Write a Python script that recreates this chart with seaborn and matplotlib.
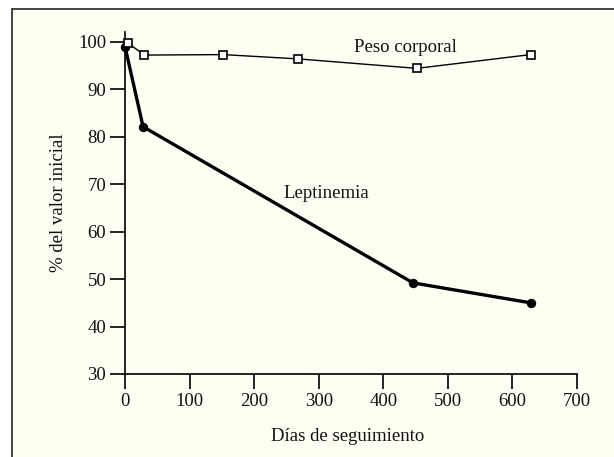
import matplotlib
matplotlib.use("Agg")
import matplotlib.pyplot as plt
import seaborn as sns
import pandas as pd
from matplotlib.patches import Rectangle

# Data
peso_dias = [5, 30, 152, 268, 452, 628]
peso_valor = [99.7, 97.2, 97.3, 96.4, 94.4, 97.3]
lept_dias = [0, 28, 446, 628]
lept_valor = [99.0, 82.1, 49.2, 45.0]
x_ticks = [0, 100, 200, 300, 400, 500, 600, 700]
y_ticks = [30, 40, 50, 60, 70, 80, 90, 100]
x_label = "Días de seguimiento"
y_label = "% del valor inicial"
peso_text = "Peso corporal"
lept_text = "Leptinemia"

sns.set_theme(style="ticks")
plt.rcParams['font.family'] = ['Liberation Serif', 'DejaVu Serif']

FS = 13.5
bg = "#FFFFF3"
W, H = 614, 457
fig = plt.figure(figsize=(W / 100, H / 100), dpi=100)
fig.patch.set_facecolor("white")
fig.patches.append(Rectangle((12 / W, -0.02), 1.05, 1 - 9 / H + 0.02,
                             transform=fig.transFigure, facecolor=bg,
                             edgecolor="#222222", linewidth=1.2, zorder=-10))

ax = fig.add_axes([125 / W, 1 - 374 / H, (577 - 125) / W, (374 - 32.3) / H])
ax.set_facecolor(bg)
ax.patch.set_alpha(0)

df_p = pd.DataFrame({"dias": peso_dias, "valor": peso_valor})
df_l = pd.DataFrame({"dias": lept_dias, "valor": lept_valor})

sns.lineplot(data=df_l, x="dias", y="valor", ax=ax, color="black", linewidth=2.4,
             marker="o", markersize=6, markerfacecolor="black", markeredgecolor="black",
             clip_on=False, zorder=3)
sns.lineplot(data=df_p, x="dias", y="valor", ax=ax, color="black", linewidth=1.0,
             marker="s", markersize=5.5, markerfacecolor="white", markeredgecolor="black",
             markeredgewidth=1.2, clip_on=False, zorder=4)

ax.set_xlim(0, 700)
ax.set_ylim(30, 102)
ax.set_xticks(x_ticks)
ax.set_yticks(y_ticks)
ax.set_xticklabels([str(t) for t in x_ticks])
ax.set_yticklabels([str(t) for t in y_ticks])
for s in ["top", "right"]:
    ax.spines[s].set_visible(False)
for s in ["left", "bottom"]:
    ax.spines[s].set_linewidth(1.2)
    ax.spines[s].set_color("black")
ax.tick_params(axis="both", direction="out", length=10.5, width=1.2, color="black",
               labelsize=FS, pad=3, labelcolor="#111111")

ax.set_xlabel(x_label, fontsize=FS, color="#111111")
ax.set_ylabel(y_label, fontsize=FS, color="#111111")
ax.xaxis.set_label_coords(0.493, -0.158)
ax.yaxis.set_label_coords(-0.128, 0.5)

ax.text(435, 98.7, peso_text, fontsize=FS, ha="center", va="center", color="#111111")
ax.text(245, 68.1, lept_text, fontsize=FS, ha="left", va="center", color="#111111")

fig.savefig("out.png", dpi=100, facecolor=fig.get_facecolor())
